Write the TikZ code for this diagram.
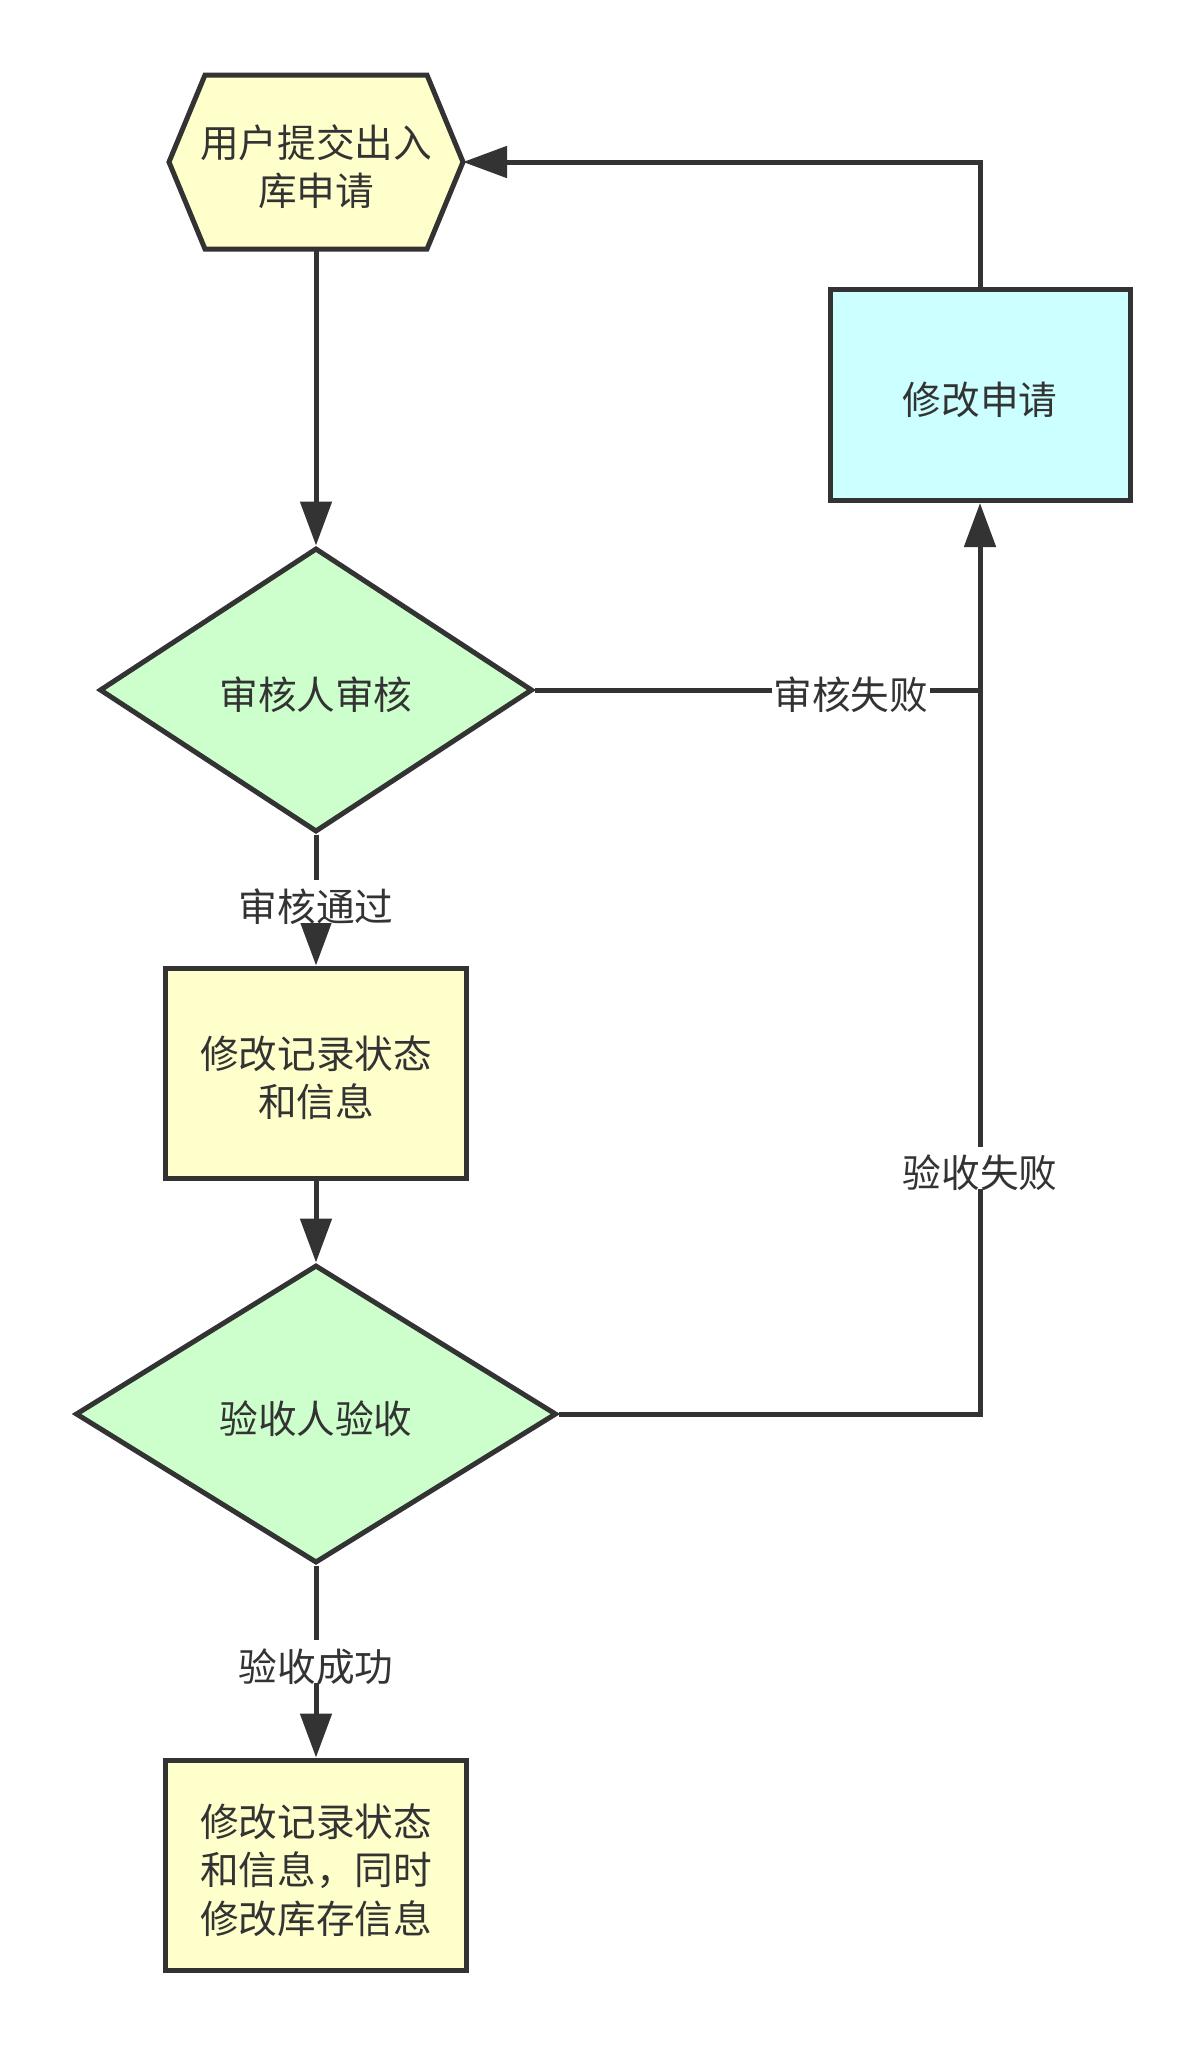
\documentclass[tikz,border=0pt]{standalone}
\usepackage{fontspec}
\setmainfont{Noto Sans CJK SC}
\usetikzlibrary{arrows.meta,shapes.geometric,backgrounds}

\definecolor{linegray}{HTML}{333333}
\definecolor{startyellow}{HTML}{FFFFCC}
\definecolor{revisecyan}{HTML}{CCFFFF}
\definecolor{decgreen}{HTML}{CCFFCC}

\tikzset{
  every node/.style={font=\fontsize{22pt}{27.5pt}\selectfont, text=linegray},
  oneline/.style={text height=22.4pt, text depth=0pt},
  twolines/.style={text height=50pt, text depth=0pt},
  threelines/.style={text height=77.5pt, text depth=0pt},
  procbox/.style={draw=linegray, line width=0.1cm, minimum width=6.02cm, minimum height=4.2cm, align=center, inner sep=0pt},
  decision/.style={diamond, draw=linegray, fill=decgreen, line width=0.1cm, inner sep=0pt, align=center, oneline},
  flow/.style={draw=linegray, line width=0.1cm, -{Triangle[length=0.88cm,width=0.62cm]}},
  plainline/.style={draw=linegray, line width=0.1cm},
  lbl/.style={fill=white, inner sep=1pt, oneline},
}

\begin{document}
\begin{tikzpicture}
\useasboundingbox (0,0) rectangle (24.08,-40.92);

% nodes
\node[minimum height=3.48cm, outer sep=0pt, align=center, inner sep=0pt, twolines] (start) at (6.32,-3.24) {用户提交出入\\库申请};
\coordinate (starttip) at ([xshift=2.94cm]start.center);
\begin{scope}[on background layer]
\draw[draw=linegray, fill=startyellow, line width=0.1cm] ([xshift=-2.94cm]start.center) -- ([shift={(-2.22,1.74)}]start.center) -- ([shift={(2.22,1.74)}]start.center) -- (starttip) -- ([shift={(2.22,-1.74)}]start.center) -- ([shift={(-2.22,-1.74)}]start.center) -- cycle;
\end{scope}

\node[decision, minimum width=8.66cm, minimum height=5.68cm] (check) at (6.32,-13.8) {审核人审核};
\node[procbox, fill=revisecyan, minimum width=6.0cm, minimum height=4.22cm, oneline] (revise) at (19.6,-7.9) {修改申请};
\node[procbox, fill=startyellow, twolines] (update) at (6.32,-21.46) {修改记录状态\\和信息};
\node[decision, minimum width=9.62cm, minimum height=5.96cm] (accept) at (6.32,-28.28) {验收人验收};
\node[procbox, fill=startyellow, threelines] (final) at (6.32,-37.3) {修改记录状态\\和信息，同时\\修改库存信息};

% connectors
\draw[flow] (start.south) -- (check.north);
\draw[flow] (check.south) -- node[lbl, pos=0.51] {审核通过} (update.north);
\draw[flow] (update.south) -- (accept.north);
\draw[flow] (accept.south) -- node[lbl, pos=0.5] {验收成功} (final.north);
\draw[plainline] (check.east) -- node[lbl, pos=0.71] {审核失败} (check.east -| revise.south);
\draw[flow] (accept.east) -- (accept.east -| revise.south) -- node[lbl, pos=0.27] {验收失败} (revise.south);
\draw[flow] (revise.north) -- (revise.north |- starttip) -- (starttip);
\end{tikzpicture}
\end{document}
